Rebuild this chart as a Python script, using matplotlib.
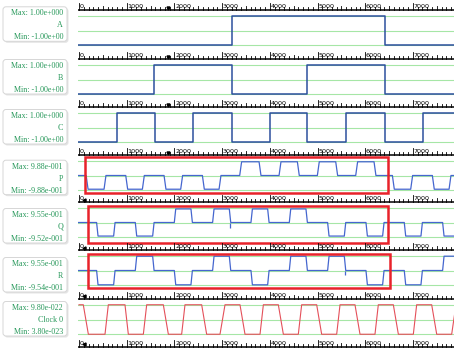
import matplotlib
matplotlib.use("Agg")
import matplotlib.pyplot as plt
import numpy as np
from matplotlib.patches import FancyBboxPatch, Rectangle

# ---- signal data (edge times in ruler units, level after each edge) ----
a_edges = [3201, 6415]
a_levels = [1, -1]
b_edges = [1572, 3201, 4787, 6415]
b_levels = [1, -1, 1, -1]
c_edges = [790, 1590, 2395, 3201, 4000, 4790, 5600, 6415, 7220]
c_levels = [1, -1, 1, -1, 1, -1, 1, -1, 1]

p_edges = [170, 545, 1000, 1349, 1803, 2152, 2607, 2956, 3389, 3795,
           4214, 4598, 5017, 5402, 5821, 6205, 6590, 6974, 7428, 7778]
p_levels = [-1, 0, -1, 0, -1, 0, -1, 0, 1, 0, 1, 0, 1, 0, 1, 0, -1, 0, -1, 0]

q_edges = [384, 741, 1195, 1559, 2013, 2362, 2816, 3166, 3620, 3970,
           4424, 4773, 5227, 5577, 6031, 6380, 6834, 7184, 7638]
q_levels = [-1, 0, -1, 0, 1, 0, 1, 0, 1, 0, 1, 0, -1, 0, -1, 0, -1, 0, -1]
q_glitch = [(3166, -0.35)]

r_edges = q_edges
r_levels = [-1, 0, 1, 0, -1, 0, 1, 0, -1, 0, 1, 0, 1, 0, -1, 0, -1, 0, 1]
r_glitch = [(5577, -0.3)]

clock_t = [0, 90, 196, 545, 615, 964, 1034, 1349, 1419, 1768, 1873, 2152,
           2222, 2572, 2676, 2956, 3061, 3375, 3480, 3795, 3865, 4179, 4284,
           4598, 4668, 4983, 5087, 5402, 5472, 5786, 5891, 6205, 6275, 6590,
           6695, 7009, 7079, 7394, 7499, 7813, 7903]
clock_v = [1, 1, -1, -1] * 10 + [1]

names = ["A", "B", "C", "P", "Q", "R", "Clock 0"]
max_text = ["Max: 1.00e+000", "Max: 1.00e+000", "Max: 1.00e+000",
            "Max: 9.88e-001", "Max: 9.55e-001", "Max: 9.55e-001", "Max: 9.80e-022"]
min_text = ["Min: -1.00e+00", "Min: -1.00e+00", "Min: -1.00e+00",
            "Min: -9.88e-001", "Min: -9.52e-001", "Min: -9.54e-001", "Min: 3.80e-023"]
ruler_labels = ["0", "1000", "2000", "3000", "4000", "5000", "6000", "7000"]

# ---- layout (pixels) ----
W, H = 454, 350
X0, X1 = 78, 454
PX_PER_T = 0.0477
T_LO = (X0 - 79) / PX_PER_T
T_HI = (X1 - 79) / PX_PER_T
bases = [10, 59, 107, 155, 202, 250, 299, 347]
label_y = [13.3, 66, 116, 166.7, 215, 264, 308]
ZERO_OFF, UNIT = 20.5, 14.75

GREEN_TXT = "#27985a"
GRID = "#a6e6a6"
BLUE_DARK = "#2c4f9e"
BLUE = "#4566cf"
RED = "#e4505a"
BOX_RED = "#e8222a"

fig = plt.figure(figsize=(W / 100, H / 100), dpi=100)
fig.patch.set_facecolor("white")


def px_axes(x0, y0, x1, y1):
    return fig.add_axes([x0 / W, 1 - y1 / H, (x1 - x0) / W, (y1 - y0) / H])


bg = px_axes(0, 0, W, H)
bg.set_xlim(0, W)
bg.set_ylim(H, 0)
bg.axis("off")

# label boxes on the left
for k in range(7):
    y = label_y[k]
    shadow = FancyBboxPatch((4.5, y - 5), 64, 34.5,
                            boxstyle="round,pad=0,rounding_size=3",
                            fc="#e4e4e4", ec="none")
    box = FancyBboxPatch((3, y - 6.5), 64, 34.5,
                         boxstyle="round,pad=0,rounding_size=3",
                         fc="white", ec="#d6d6d6", lw=0.7)
    bg.add_patch(shadow)
    bg.add_patch(box)
    for dy, s in zip([0, 12, 24], [max_text[k], names[k], min_text[k]]):
        bg.text(63, y + dy, s, ha="right", va="center", fontsize=5.8,
                family=["Liberation Serif", "DejaVu Serif"], color=GREEN_TXT)


def wave(edges, levels, start, ramp, amp):
    t, v, cur = [T_LO], [start * amp], start
    for e, l in zip(edges, levels):
        t += [e - ramp / 2, e + ramp / 2]
        v += [cur * amp, l * amp]
        cur = l
    t.append(T_HI)
    v.append(cur * amp)
    return t, v


signals = [
    (wave(a_edges, a_levels, -1, 0, 1.0), BLUE_DARK, 1.1, []),
    (wave(b_edges, b_levels, -1, 0, 1.0), BLUE_DARK, 1.1, []),
    (wave(c_edges, c_levels, -1, 0, 1.0), BLUE_DARK, 1.1, []),
    (wave(p_edges, p_levels, 0, 40, 0.93), BLUE, 0.9, []),
    (wave(q_edges, q_levels, 0, 30, 0.92), BLUE, 0.9, q_glitch),
    (wave(r_edges, r_levels, 0, 30, 0.97), BLUE, 0.9, r_glitch),
    ((clock_t, clock_v), RED, 0.8, []),
]

# red highlight boxes: (t0, t1, v_bottom, v_top) for P, Q, R
highlight = {3: (126, 6478, -1.19, 1.25), 4: (195, 6484, -1.41, 1.12),
             5: (195, 6520, -1.20, 1.12)}

for k in range(7):
    top = bases[k]
    bot = bases[k + 1] - 9
    ax = px_axes(X0, top, X1, bot)
    ax.set_xlim(T_LO, T_HI)
    ax.set_ylim((ZERO_OFF - (bot - top)) / UNIT, ZERO_OFF / UNIT)
    ax.axis("off")
    ax.patch.set_alpha(0)
    for g in (1, 0, -1):
        ax.axhline(g, color=GRID, lw=0.8, zorder=1)
    (t, v), col, lw, glitches = signals[k]
    ax.plot(t, v, color=col, lw=lw, zorder=3)
    for gt, gv in glitches:
        ax.vlines(gt, gv, 0, color=col, lw=0.9, zorder=3)
    if k in highlight:
        t0, t1, v0, v1 = highlight[k]
        ax.add_patch(Rectangle((t0, v0), t1 - t0, v1 - v0, fill=False,
                               ec=BOX_RED, lw=1.8, clip_on=False, zorder=4))

# rulers
minor = np.arange(0, 7900, 100)
for i, b in enumerate(bases):
    rax = px_axes(X0, b - 9, X1, b + 1)
    rax.set_xlim(T_LO, T_HI)
    rax.set_ylim(b + 1, b - 9)
    rax.axis("off")
    rax.patch.set_alpha(0)
    rax.axhline(b, color="black", lw=1.1)
    for m in minor:
        ln = 7 if m % 1000 == 0 else (4 if m % 500 == 0 else 2.8)
        rax.plot([m, m], [b, b - ln], color="black", lw=0.6)
    for j, lab in enumerate(ruler_labels):
        rax.text(j * 1000 + 15, b - 1.2, lab, fontsize=4.6, va="bottom",
                 ha="left", family=["Liberation Sans Narrow", "DejaVu Sans"],
                 color="black")
    if i < 4:
        rax.plot(1870, b - 2.5, marker="v", ms=2.2, color="black")
    else:
        rax.plot(110, b - 2.5, marker="<", ms=2.2, color="black")

fig.savefig("out.png", dpi=100)
